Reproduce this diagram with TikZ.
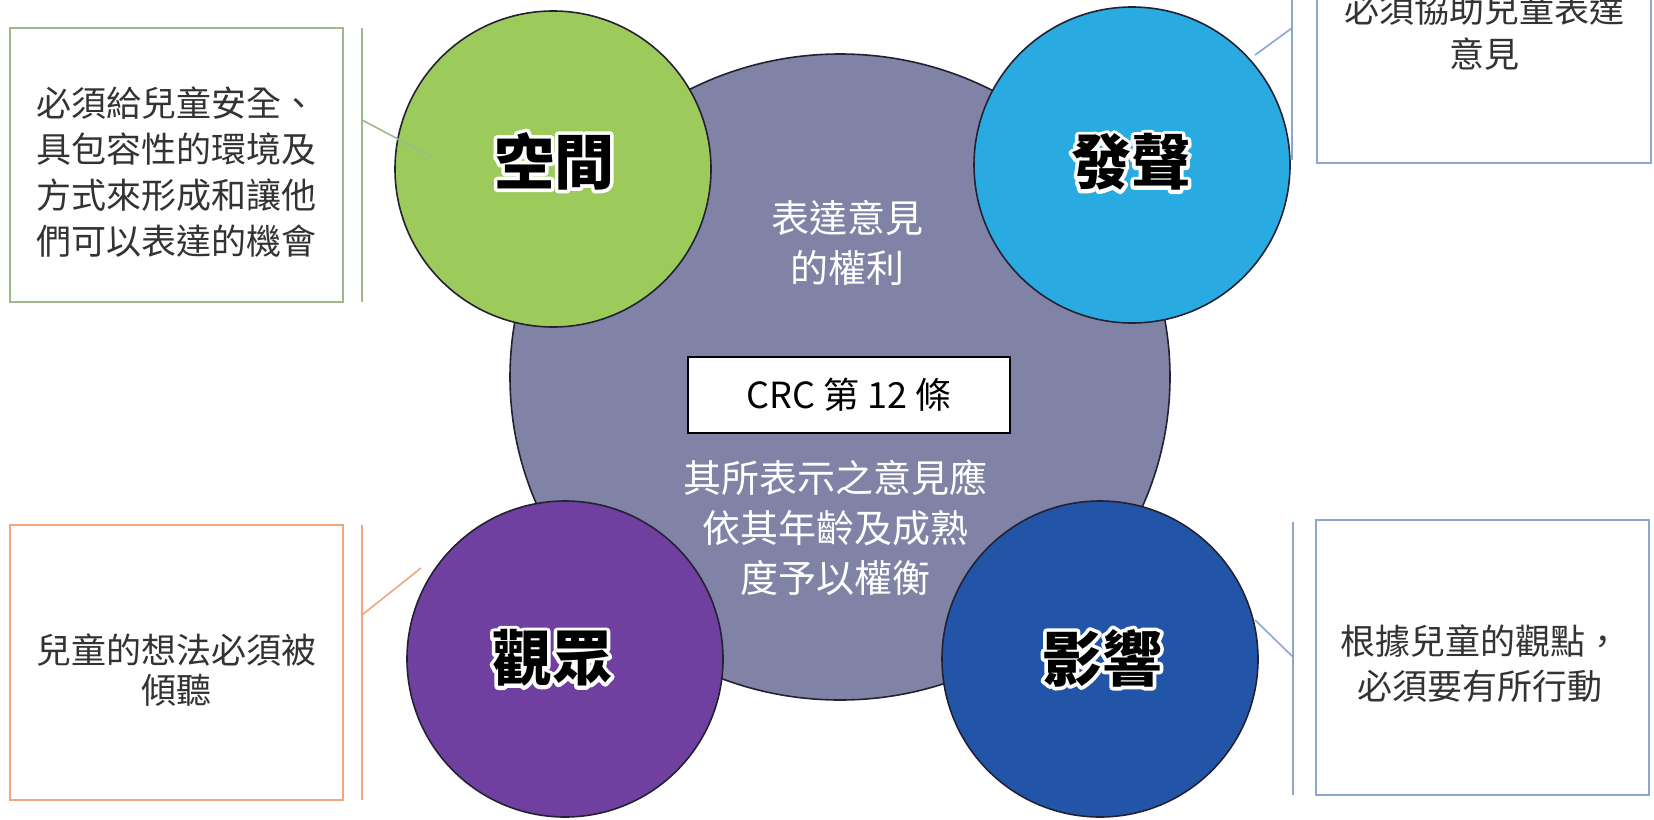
\documentclass[tikz,border=0pt]{standalone}
\usepackage{fontspec}
\setmainfont{Noto Sans CJK TC}
\newfontfamily\halofont{Noto Sans CJK TC}[BoldFeatures={FakeBold=12}]
\newcommand\halolabel[1]{\special{pdf:literal 1 j 1 J}\rlap{\textcolor{white}{\halofont\bfseries #1}}{\bfseries #1}}
\usetikzlibrary{shapes.geometric}
\definecolor{cgreen}{HTML}{9CCB5C}
\definecolor{cgray}{HTML}{8083A6}
\definecolor{cblue}{HTML}{29ABE2}
\definecolor{cpurple}{HTML}{7040A0}
\definecolor{cdblue}{HTML}{2255A8}
\definecolor{lgreen}{HTML}{A3B78F}
\definecolor{lblue}{HTML}{8DA6CF}
\definecolor{lorange}{HTML}{F2A67C}
\definecolor{tgray}{HTML}{333333}
\definecolor{edge}{HTML}{222233}
\begin{document}
\begin{tikzpicture}[x=0.5pt,y=-0.5pt,
  bubble/.style={circle, draw=edge, line width=0.8pt, minimum size=158pt, inner sep=0pt},
  boxtext/.style={align=center, text=tgray, font=\fontsize{17.5}{22.5}\selectfont, inner sep=0pt},
  wtext/.style={align=center, text=white, font=\fontsize{19}{25}\selectfont, inner sep=0pt},
  biglabel/.style={inner sep=0pt, text=black, font=\fontsize{30}{30}\selectfont},
  framebox/.style={draw=#1, line width=0.8pt, inner sep=0pt, minimum width=166.5pt},
  bracket/.style={draw=#1, line width=0.8pt},
]
\clip (0,0) rectangle (1654,819);
\fill[white] (0,0) rectangle (1654,819);

% central circle
\node[ellipse, draw=edge, fill=cgray, line width=0.8pt, minimum width=330pt, minimum height=323pt, inner sep=0pt] (core) at (840,377) {};

% four circles
\node[bubble, fill=cgreen] (space) at (553,169) {};
\node[bubble, fill=cblue] (voice) at (1132,165) {};
\node[bubble, fill=cpurple] (audience) at (565,659) {};
\node[bubble, fill=cdblue] (influence) at (1100,659) {};

\node[biglabel] (lspace) at (554,161) {\halolabel{空間}};
\node[biglabel] (lvoice) at (1131,162) {\halolabel{發聲}};
\node[biglabel] (laudience) at (552,658) {\halolabel{觀眾}};
\node[biglabel] (linfluence) at (1102,658) {\halolabel{影響}};

% central texts
\node[wtext] (right) at (847,243) {表達意見\\的權利};
\node[draw=black, fill=white, line width=0.8pt, minimum width=161pt, minimum height=38pt, inner sep=0pt,
      font=\fontsize{18}{18}\selectfont] (crc) at (849,395) {CRC 第 12 條};
\node[wtext] (weigh) at (835,528) {其所表示之意見應\\依其年齡及成熟\\度予以權衡};

% boxes
\node[framebox=lgreen, minimum height=137pt] (boxTL) at (176.5,165) {};
\node[framebox=lblue, minimum width=167pt, minimum height=91.5pt] (boxTR) at (1484,71.5) {};
\node[framebox=lorange, minimum height=137.5pt] (boxBL) at (176.5,662.5) {};
\node[framebox=lblue, minimum height=137.5pt] (boxBR) at (1482.5,657.5) {};

\node[boxtext, font=\fontsize{17.5}{23}\selectfont] (tTL) at (176,172) {必須給兒童安全、\\具包容性的環境及\\方式來形成和讓他\\們可以表達的機會};
\node[boxtext] (tTR) at (1484,32) {必須協助兒童表達\\意見};
\node[boxtext, font=\fontsize{17.5}{20}\selectfont] (tBL) at (176,670) {兒童的想法必須被\\傾聽};
\node[boxtext] (tBR) at (1480,664) {根據兒童的觀點，\\必須要有所行動};

% brackets and connectors
\coordinate (tlA) at (362,28);   \coordinate (tlB) at (362,302);
\coordinate (tlC) at (362,120);  \coordinate (tlD) at (432,157);
\coordinate (trA) at (1292,-5);  \coordinate (trB) at (1292,160);
\coordinate (trC) at (1292,28);  \coordinate (trD) at (1255,55);
\coordinate (blA) at (362,525);  \coordinate (blB) at (362,800);
\coordinate (blC) at (362,615);  \coordinate (blD) at (421,568);
\coordinate (brA) at (1293,522); \coordinate (brB) at (1293,795);
\coordinate (brC) at (1293,657); \coordinate (brD) at (1255,620);

\draw[bracket=lgreen] (tlA) -- (tlB);
\draw[bracket=lgreen] (tlC) -- (tlD);
\draw[bracket=lblue] (trA) -- (trB);
\draw[bracket=lblue] (trC) -- (trD);
\draw[bracket=lorange] (blA) -- (blB);
\draw[bracket=lorange] (blC) -- (blD);
\draw[bracket=lblue] (brA) -- (brB);
\draw[bracket=lblue] (brC) -- (brD);
\end{tikzpicture}
\end{document}
